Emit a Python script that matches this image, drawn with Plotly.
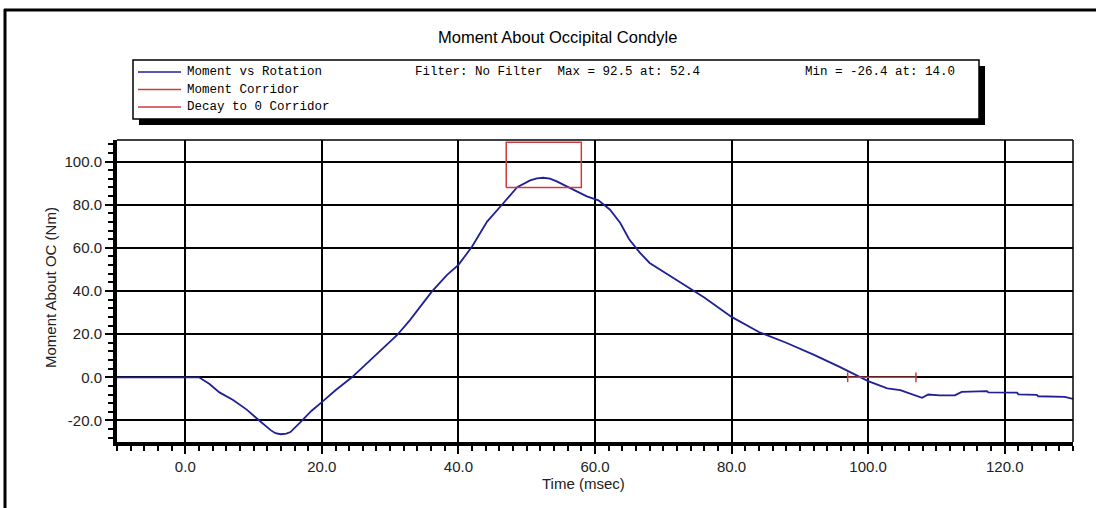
import plotly.graph_objects as go

# ---------------- data ----------------
time_ms = [-10, 0, 2.0, 3.5, 5.0, 7.0, 9.0, 11.0, 12.5, 13.2, 14.0, 14.8, 15.4, 16.8, 18.5, 20.0,
           22.0, 24.4, 27.6, 31.0, 32.9, 36.1, 38.3, 40.0, 42.0, 44.2, 46.6, 48.6, 50.5,
           51.5, 52.4, 53.4, 54.4, 56.4, 58.8, 60.5, 62.2, 63.7, 65.0, 66.5, 68.0, 72.0,
           76.0, 80.0, 84.0, 88.0, 92.0, 95.9, 100.0, 102.8, 104.7, 107.9, 108.8, 110.5,
           112.7, 113.7, 116.4, 117.4, 117.6, 121.8, 122.0, 124.7, 124.9, 128.8, 130.0]
moment_nm = [0, 0, 0, -3, -7, -10.5, -15, -20.5, -24.5, -25.9, -26.4, -26.1, -25.4, -21, -15.5,
             -11.5, -6, 0, 9.5, 19.5, 26.5, 39.7, 47.4, 52.1, 60.6, 72.2, 80.8, 88.1, 91.3,
             92.2, 92.5, 92.1, 90.8, 87.8, 83.9, 82.0, 77.7, 71.5, 64, 58, 53, 45,
             37, 28, 21, 16, 10.5, 4.7, -1.8, -5.1, -6.0, -9.5, -8.0, -8.4,
             -8.4, -6.8, -6.4, -6.4, -7.0, -7.1, -7.9, -8.2, -8.8, -9.1, -10]

corridor_t = [47, 58]       # moment corridor time bounds
corridor_m = [88, 109]      # moment corridor moment bounds
decay_t = [97, 107]         # decay-to-zero corridor time bounds
decay_m = [0, 0]

x_ticks = [0, 20, 40, 60, 80, 100, 120]
y_ticks = [-20, 0, 20, 40, 60, 80, 100]
x_tick_labels = ["0.0", "20.0", "40.0", "60.0", "80.0", "100.0", "120.0"]
y_tick_labels = ["-20.0", "0.0", "20.0", "40.0", "60.0", "80.0", "100.0"]

title_text = "Moment About Occipital Condyle"
legend_names = ["Moment vs Rotation", "Moment Corridor", "Decay to 0 Corridor"]
filter_text = "Filter: No Filter  Max = 92.5 at: 52.4"
min_text = "Min = -26.4 at: 14.0"

# ---------------- layout constants ----------------
W, H = 1096, 508
BLUE = "#1f1f96"
RED = "#cc3c3c"


def px(x):
    return x / W


def py(y):
    return 1 - y / H


fig = go.Figure()

fig.add_trace(go.Scatter(x=time_ms, y=moment_nm, mode="lines",
                         line=dict(color=BLUE, width=1.8), name=legend_names[0]))

rect_x = [corridor_t[0], corridor_t[1], corridor_t[1], corridor_t[0], corridor_t[0]]
rect_y = [corridor_m[0], corridor_m[0], corridor_m[1], corridor_m[1], corridor_m[0]]
fig.add_trace(go.Scatter(x=rect_x, y=rect_y, mode="lines",
                         line=dict(color=RED, width=1.5), name=legend_names[1]))

fig.add_trace(go.Scatter(x=decay_t, y=decay_m, mode="lines+markers",
                         line=dict(color=RED, width=1.5),
                         marker=dict(symbol="line-ns-open", size=7,
                                     line=dict(color=RED, width=1.5)),
                         name=legend_names[2]))

x0d, x1d = 117, 1073
y0d, y1d = 140, 442

fig.update_xaxes(range=[-10, 130], domain=[px(x0d), px(x1d)],
                 tickvals=x_ticks, ticktext=x_tick_labels,
                 showgrid=True, gridcolor="black", gridwidth=1.5, zeroline=False,
                 showline=True, linecolor="black", linewidth=4,
                 ticks="outside", ticklen=8, tickwidth=2, tickcolor="black",
                 minor=dict(dtick=2, tick0=0, ticks="outside", ticklen=5,
                            tickwidth=1.5, tickcolor="black", showgrid=False),
                 tickfont=dict(family="Liberation Sans", size=15, color="#222"))
fig.update_yaxes(range=[-30, 110], domain=[py(y1d), py(y0d)],
                 tickvals=y_ticks, ticktext=y_tick_labels,
                 showgrid=True, gridcolor="black", gridwidth=1.5, zeroline=False,
                 showline=True, linecolor="black", linewidth=4,
                 ticks="outside", ticklen=8, tickwidth=2, tickcolor="black",
                 minor=dict(dtick=4, tick0=0, ticks="outside", ticklen=5,
                            tickwidth=1.5, tickcolor="black", showgrid=False),
                 tickfont=dict(family="Liberation Sans", size=15, color="#222"))

shapes = [
    # outer frame
    dict(type="line", xref="paper", yref="paper", x0=px(5), x1=px(5), y0=py(9), y1=py(512),
         line=dict(color="black", width=3)),
    dict(type="line", xref="paper", yref="paper", x0=px(4), x1=px(1100), y0=py(10), y1=py(10),
         line=dict(color="black", width=3)),
    # plot top / right border
    dict(type="line", xref="paper", yref="paper", x0=px(x0d), x1=px(x1d), y0=py(y0d), y1=py(y0d),
         line=dict(color="black", width=1.5)),
    dict(type="line", xref="paper", yref="paper", x0=px(x1d), x1=px(x1d), y0=py(y0d), y1=py(y1d),
         line=dict(color="black", width=1.5)),
    # legend shadow and box
    dict(type="rect", xref="paper", yref="paper", x0=px(139), x1=px(985), y0=py(125), y1=py(66),
         fillcolor="black", line=dict(width=0)),
    dict(type="rect", xref="paper", yref="paper", x0=px(133), x1=px(979), y0=py(119), y1=py(60),
         fillcolor="white", line=dict(color="black", width=1.5)),
]
legend_rows = [72, 89.5, 107]
legend_colors = [BLUE, RED, RED]
for yy, cc in zip(legend_rows, legend_colors):
    shapes.append(dict(type="line", xref="paper", yref="paper", x0=px(138), x1=px(181),
                       y0=py(yy), y1=py(yy), line=dict(color=cc, width=1.5)))

mono = dict(family="Liberation Mono", size=12.5, color="black")
annotations = [
    dict(text=title_text, x=px(557), y=py(37), xref="paper", yref="paper",
         showarrow=False, xanchor="center", yanchor="middle",
         font=dict(family="Liberation Sans", size=16.5, color="black")),
    dict(text="Time (msec)", x=px(583), y=py(483), xref="paper", yref="paper",
         showarrow=False, xanchor="center", yanchor="middle",
         font=dict(family="Liberation Sans", size=15, color="#222")),
    dict(text="Moment About OC (Nm)", x=px(50), y=py(288), xref="paper", yref="paper",
         showarrow=False, xanchor="center", yanchor="middle", textangle=-90,
         font=dict(family="Liberation Sans", size=15, color="#222")),
    dict(text=filter_text, x=px(413), y=py(72), xref="paper", yref="paper",
         showarrow=False, xanchor="left", yanchor="middle", font=mono),
    dict(text=min_text, x=px(803), y=py(72), xref="paper", yref="paper",
         showarrow=False, xanchor="left", yanchor="middle", font=mono),
]
for yy, name in zip(legend_rows, legend_names):
    annotations.append(dict(text=name, x=px(185), y=py(yy), xref="paper", yref="paper",
                            showarrow=False, xanchor="left", yanchor="middle", font=mono))

fig.update_layout(width=W, height=H, margin=dict(l=0, r=0, t=0, b=0),
                  paper_bgcolor="white", plot_bgcolor="white", showlegend=False,
                  hovermode=False, shapes=shapes, annotations=annotations)

fig.write_html("out.html", config={"displayModeBar": False},
               post_script="document.body.style.margin='0';document.body.style.overflow='hidden';")
